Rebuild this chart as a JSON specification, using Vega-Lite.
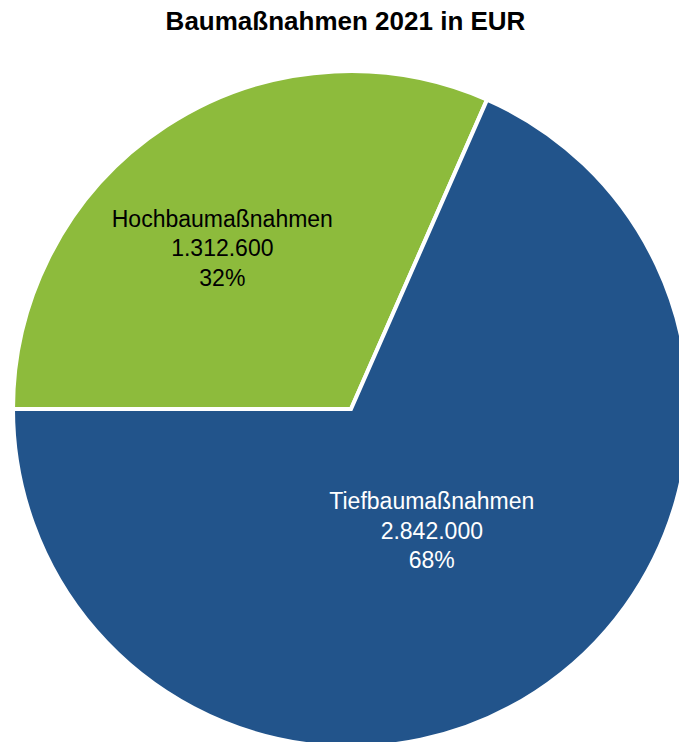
{
  "$schema": "https://vega.github.io/schema/vega-lite/v6.json",
  "width": 679,
  "height": 698,
  "autosize": "none",
  "padding": {"top": 44, "left": 0, "right": 0, "bottom": 0},
  "background": "white",
  "config": {
    "view": {"stroke": null},
    "locale": {"number": {"decimal": ",", "thousands": ".", "grouping": [3], "currency": ["", " €"]}}
  },
  "title": {
    "text": "Baumaßnahmen 2021 in EUR",
    "font": "Liberation Sans",
    "fontSize": 26,
    "fontWeight": "bold",
    "color": "black",
    "anchor": "middle",
    "baseline": "alphabetic",
    "offset": 14,
    "dx": 6,
    "dy": 26
  },
  "data": {
    "values": [
      {"category": "Hochbaumaßnahmen", "value": 1312600},
      {"category": "Tiefbaumaßnahmen", "value": 2842000}
    ]
  },
  "transform": [
    {"joinaggregate": [{"op": "sum", "field": "value", "as": "total"}]},
    {"calculate": "datum.category + '\\n' + format(datum.value, ',') + '\\n' + format(datum.value / datum.total, '.0%')", "as": "label"}
  ],
  "encoding": {
    "theta": {"field": "value", "type": "quantitative", "stack": true, "scale": {"range": [4.7124, 10.9956]}},
    "order": {"field": "category", "sort": "ascending"}
  },
  "layer": [
    {
      "mark": {"type": "arc", "x": 351, "y": 365, "outerRadius": 338, "stroke": "white", "strokeWidth": 4},
      "encoding": {
        "color": {
          "field": "category",
          "type": "nominal",
          "scale": {"domain": ["Hochbaumaßnahmen", "Tiefbaumaßnahmen"], "range": ["#8DBB3C", "#22548B"]},
          "legend": null
        }
      }
    },
    {
      "mark": {
        "type": "text",
        "x": 351,
        "y": 365,
        "radius": {"expr": "datum.category == 'Hochbaumaßnahmen' ? 208 : 146"},
        "dx": {"expr": "datum.category == 'Hochbaumaßnahmen' ? -15 : 1"},
        "dy": {"expr": "datum.category == 'Hochbaumaßnahmen' ? -15 : -29"},
        "lineBreak": "\n",
        "lineHeight": 29.5,
        "font": "Liberation Sans",
        "fontSize": 23,
        "align": "center",
        "baseline": "middle"
      },
      "encoding": {
        "text": {"field": "label", "type": "nominal"},
        "color": {
          "field": "category",
          "type": "nominal",
          "scale": {"domain": ["Hochbaumaßnahmen", "Tiefbaumaßnahmen"], "range": ["black", "white"]},
          "legend": null
        }
      }
    }
  ],
  "resolve": {"scale": {"color": "independent"}}
}
